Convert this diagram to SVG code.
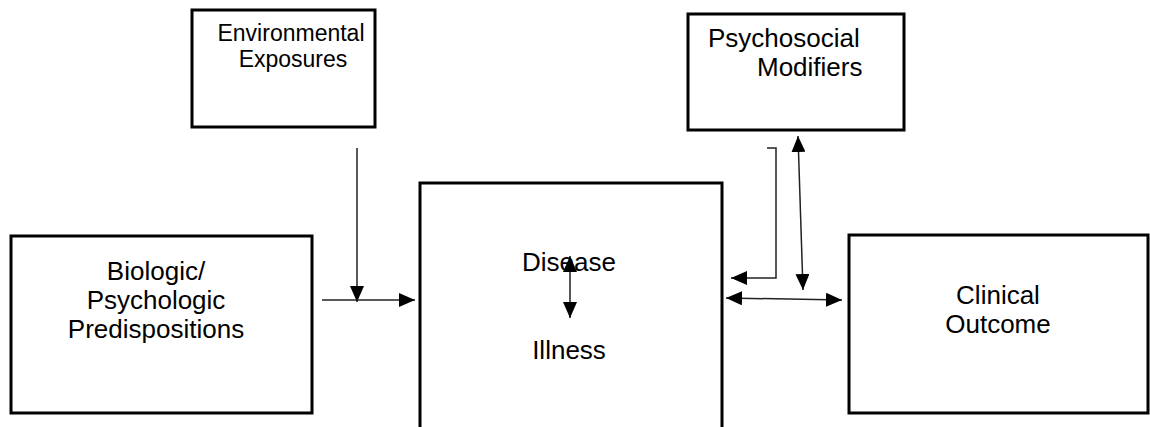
<svg xmlns="http://www.w3.org/2000/svg" width="1150" height="427" viewBox="0 0 1150 427">
<defs>
<marker id="ah" viewBox="0 0 16 14" refX="16" refY="7" markerWidth="16" markerHeight="14" markerUnits="userSpaceOnUse" orient="auto-start-reverse">
<path d="M0,0 L16,7 L0,14 Z" fill="#000"/>
</marker>
<style>
.box{fill:#fff;stroke:#000;stroke-width:3}
.t{font-family:"Liberation Sans",Arial,sans-serif;font-size:26px;fill:#000}
.s{font-size:23px}
.c{text-anchor:middle}
.ln{fill:none;stroke:#222;stroke-width:1.5}
</style>
</defs>
<rect width="1150" height="427" fill="#fff"/>
<g id="environmental">
<rect class="box" x="192" y="10" width="183" height="117"/>
<text class="t s c" x="291" y="41">Environmental</text>
<text class="t s c" x="293" y="67">Exposures</text>
</g>
<g id="psychosocial">
<rect class="box" x="688" y="14" width="216" height="116"/>
<text class="t" x="708" y="47">Psychosocial</text>
<text class="t" x="757" y="76">Modifiers</text>
</g>
<g id="biologic">
<rect class="box" x="11" y="236" width="301" height="177"/>
<text class="t c" x="156" y="280">Biologic/</text>
<text class="t c" x="156" y="309">Psychologic</text>
<text class="t c" x="156" y="338">Predispositions</text>
</g>
<g id="disease-illness">
<rect class="box" x="420" y="183" width="302" height="260"/>
<text class="t c" x="569" y="271">Disease</text>
<text class="t c" x="569" y="359">Illness</text>
</g>
<g id="clinical">
<rect class="box" x="849" y="235" width="299" height="178"/>
<text class="t c" x="998" y="304">Clinical</text>
<text class="t c" x="998" y="333">Outcome</text>
</g>
<g id="connectors">
<line class="ln" x1="357" y1="148" x2="357" y2="302" marker-end="url(#ah)"/>
<line class="ln" x1="322" y1="300" x2="415" y2="300" marker-end="url(#ah)"/>
<line class="ln" x1="570" y1="256" x2="570" y2="318" marker-start="url(#ah)" marker-end="url(#ah)"/>
<polyline class="ln" points="767,148 776,148 776,278 731,278" marker-end="url(#ah)"/>
<line class="ln" x1="798" y1="136" x2="803" y2="290" marker-start="url(#ah)" marker-end="url(#ah)"/>
<line class="ln" x1="726" y1="298" x2="842" y2="300" marker-start="url(#ah)" marker-end="url(#ah)"/>
</g>
</svg>
